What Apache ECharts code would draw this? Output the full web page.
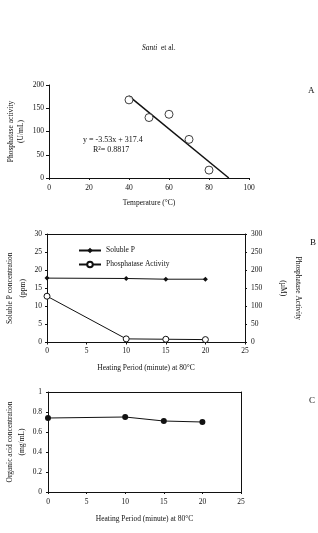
<!DOCTYPE html>
<html><head><meta charset="utf-8">
<script src="https://cdn.jsdelivr.net/npm/echarts@6/dist/echarts.min.js"></script>
<style>html,body{margin:0;padding:0;background:#fff}#c{width:318px;height:533px}</style>
</head><body><div id="c"></div>
<script>
// Panel A
const tempA = [40, 50, 60, 70, 80];
const activityA = [168, 130, 137, 83, 17];
const trendSlope = -3.53, trendIntercept = 317.4;
const trendX = [40, 89.9];
// Panel B
const heatMin = [0, 10, 15, 20];
const solubleP = [17.8, 17.7, 17.5, 17.5];
const phosActB = [128, 10, 9, 8];
// Panel C
const organicAcid = [0.74, 0.75, 0.71, 0.70];

const FONT = 'Liberation Serif';
const black = '#111';
const txt = {fontFamily: FONT, fontSize: 7.5, color: black};
const axLine = {show: true, onZero: false, lineStyle: {color: black, width: 1}};
function pairs(xs, ys){ return xs.map((x,i)=>[x, ys[i]]); }

const chart = echarts.init(document.getElementById('c'), null, {renderer:'canvas'});
chart.setOption({
  backgroundColor: '#fff',
  animation: false,
  textStyle: {fontFamily: FONT},
  grid: [
    {left: 49, top: 85, width: 200, height: 93, containLabel:false, outerBoundsMode:'none'},
    {left: 47, top: 234, width: 198, height: 108.5, containLabel:false, outerBoundsMode:'none'},
    {left: 48, top: 392, width: 193, height: 100, containLabel:false, outerBoundsMode:'none'}
  ],
  xAxis: [
    {gridIndex:0, type:'value', min:0, max:100, interval:20, axisLine:axLine,
     axisTick:{show:true, length:2, lineStyle:{color:black}}, splitLine:{show:false},
     axisLabel:Object.assign({margin:6}, txt),
     name:'Temperature (°C)', nameLocation:'middle', nameGap:21, nameTextStyle:txt},
    {gridIndex:1, type:'value', min:0, max:25, interval:5, axisLine:axLine,
     axisTick:{show:true, length:2, lineStyle:{color:black}}, splitLine:{show:false},
     axisLabel:Object.assign({margin:5}, txt),
     name:'Heating Period (minute) at 80°C', nameLocation:'middle', nameGap:22, nameTextStyle:txt},
    {gridIndex:1, type:'value', min:0, max:25, position:'top', axisLine:axLine,
     axisTick:{show:false}, axisLabel:{show:false}, splitLine:{show:false}},
    {gridIndex:2, type:'value', min:0, max:25, interval:5, axisLine:axLine,
     axisTick:{show:true, length:2, lineStyle:{color:black}}, splitLine:{show:false},
     axisLabel:Object.assign({margin:6}, txt),
     name:'Heating Period (minute) at 80°C', nameLocation:'middle', nameGap:23, nameTextStyle:txt},
    {gridIndex:2, type:'value', min:0, max:25, position:'top', axisLine:axLine,
     axisTick:{show:false}, axisLabel:{show:false}, splitLine:{show:false}}
  ],
  yAxis: [
    {gridIndex:0, type:'value', min:0, max:200, interval:50, axisLine:axLine,
     axisTick:{show:true, length:3, lineStyle:{color:black}}, splitLine:{show:false},
     axisLabel:Object.assign({margin:5}, txt),
     name:'Phosphatase activity\n(U/mL)', nameLocation:'middle', nameGap:22.5, nameRotate:90,
     nameMoveOverlap:false, nameTextStyle:Object.assign({lineHeight:10.5}, txt)},
    {gridIndex:1, type:'value', min:0, max:30, interval:5, axisLine:axLine,
     axisTick:{show:true, length:2, lineStyle:{color:black}}, splitLine:{show:false},
     axisLabel:Object.assign({margin:5}, txt),
     name:'Soluble P concentration\n(ppm)', nameLocation:'middle', nameGap:17.5, nameRotate:90,
     nameMoveOverlap:false, nameTextStyle:Object.assign({lineHeight:13}, txt)},
    {gridIndex:1, type:'value', min:0, max:300, interval:50, position:'right', axisLine:axLine,
     axisTick:{show:true, length:2, lineStyle:{color:black}}, splitLine:{show:false},
     axisLabel:Object.assign({margin:6}, txt),
     name:'Phosphatase Activity\n(µM)', nameLocation:'middle', nameGap:30.5, nameRotate:-90,
     nameMoveOverlap:false, nameTextStyle:Object.assign({lineHeight:15}, txt)},
    {gridIndex:2, type:'value', min:0, max:1, interval:0.2, axisLine:axLine,
     axisTick:{show:true, length:2, lineStyle:{color:black}}, splitLine:{show:false},
     axisLabel:Object.assign({margin:6, formatter:v=>String(+v.toFixed(1))}, txt),
     name:'Organic acid concentration\n(mg/mL)', nameLocation:'middle', nameGap:20, nameRotate:90,
     nameMoveOverlap:false, nameTextStyle:Object.assign({lineHeight:12}, txt)},
    {gridIndex:2, type:'value', min:0, max:1, position:'right', axisLine:axLine,
     axisTick:{show:false}, axisLabel:{show:false}, splitLine:{show:false}}
  ],
  legend: {
    left: 78, top: 246.5, padding: 0, orient:'vertical', itemWidth: 22, itemHeight: 7, itemGap: 6,
    textStyle: txt, data: ['Soluble P', 'Phosphatase Activity']
  },
  series: [
    {type:'scatter', xAxisIndex:0, yAxisIndex:0, data: pairs(tempA, activityA),
     symbol:'circle', symbolSize:8, itemStyle:{color:'#fff', borderColor:black, borderWidth:1}, z:5},
    {type:'line', xAxisIndex:0, yAxisIndex:0,
     data: trendX.map(x=>[x, Math.max(0, trendSlope*x+trendIntercept)]),
     showSymbol:false, symbol:'none', lineStyle:{color:black, width:1.5}},
    {name:'Soluble P', type:'line', xAxisIndex:1, yAxisIndex:1, data: pairs(heatMin, solubleP),
     symbol:'diamond', symbolSize:5, itemStyle:{color:black}, lineStyle:{color:black, width:1}},
    {name:'Phosphatase Activity', type:'line', xAxisIndex:1, yAxisIndex:2, data: pairs(heatMin, phosActB),
     symbol:'circle', symbolSize:6, itemStyle:{color:'#fff', borderColor:black, borderWidth:1},
     lineStyle:{color:black, width:1, type:'solid'}, z:4},
    {type:'line', xAxisIndex:3, yAxisIndex:3, data: pairs(heatMin, organicAcid),
     symbol:'circle', symbolSize:6, itemStyle:{color:black}, lineStyle:{color:black, width:1}}
  ],
  graphic: [
    {type:'text', left:142, top:44, style:{text:'Santi', font:'italic 7.5px "Liberation Serif"', fill:black}},
    {type:'text', left:161, top:44, style:{text:'et al.', font:'7.5px "Liberation Serif"', fill:black}},
    {type:'text', left:83, top:136, style:{text:'y = -3.53x + 317.4', font:'8px "Liberation Serif"', fill:black}},
    {type:'text', left:93, top:146, style:{text:'R²= 0.8817', font:'8px "Liberation Serif"', fill:black}},
    {type:'text', left:308, top:86, style:{text:'A', font:'9px "Liberation Serif"', fill:black}},
    {type:'text', left:310, top:238, style:{text:'B', font:'9px "Liberation Serif"', fill:black}},
    {type:'text', left:309, top:396, style:{text:'C', font:'9px "Liberation Serif"', fill:black}}
  ]
});
</script></body></html>
